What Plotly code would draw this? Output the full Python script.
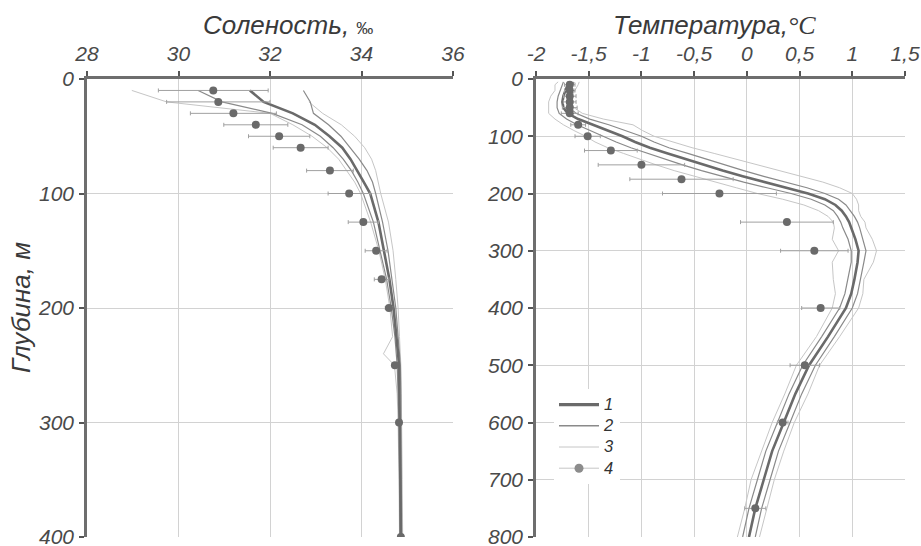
import plotly.graph_objects as go

# ---------------- Salinity panel data ----------------
s_depth = [10, 20, 30, 40, 50, 60, 70, 80, 90, 100, 125, 150, 175, 200, 225, 240, 250, 275, 300, 350, 400]
s_mean = [31.56, 31.86, 32.50, 32.98, 33.30, 33.58, 33.76, 33.91, 34.05, 34.19, 34.37, 34.49, 34.61, 34.70, 34.77,
          34.80, 34.82, 34.83, 34.84, 34.85, 34.86]
s_lo2 = [30.43, 30.95, 32.05, 32.70, 33.10, 33.38, 33.60, 33.78, 33.92, 34.04, 34.26, 34.40, 34.55, 34.65, 34.73,
         34.76, 34.78, 34.80, 34.82, 34.83, 34.84]
s_hi2 = [32.73, 32.88, 32.95, 33.28, 33.55, 33.76, 33.95, 34.12, 34.24, 34.31, 34.46, 34.58, 34.67, 34.75, 34.80,
         34.83, 34.85, 34.86, 34.86, 34.87, 34.88]
s_lo3 = [28.98, 29.74, 32.00, 32.50, 32.92, 33.25, 33.50, 33.68, 33.85, 33.98, 34.20, 34.38, 34.52, 34.62, 34.68,
         34.48, 34.72, 34.78, 34.80, 34.82, 34.83]
s_hi3 = [None, 32.85, 33.15, 33.56, 33.85, 34.07, 34.22, 34.31, 34.37, 34.42, 34.59, 34.69, 34.75, 34.80, 34.83,
         34.85, 34.86, 34.87, 34.88, 34.89, 34.90]

s_pt_depth = [10, 20, 30, 40, 50, 60, 80, 100, 125, 150, 175, 200, 250, 300, 400]
s_pt = [30.76, 30.87, 31.20, 31.69, 32.20, 32.67, 33.31, 33.73, 34.04, 34.32, 34.44, 34.60, 34.73, 34.82, 34.86]
s_pt_err = [1.20, 1.13, 0.94, 0.70, 0.67, 0.60, 0.51, 0.46, 0.33, 0.24, 0.16, 0.08, 0.05, 0.03, 0.02]

# ---------------- Temperature panel data ----------------
t_depth = [5, 10, 20, 30, 40, 50, 60, 70, 80, 90,
           100, 110, 120, 130, 140, 150, 160, 170, 180, 190,
           200, 210, 220, 230, 240, 250, 260, 280, 300, 320,
           350, 375, 400, 450, 500, 550, 600, 650, 700, 750, 800]
t_mean = [-1.69, -1.70, -1.72, -1.74, -1.75, -1.74, -1.70, -1.60, -1.46, -1.32,
          -1.18, -1.06, -0.92, -0.75, -0.58, -0.41, -0.23, -0.04, 0.17, 0.38,
          0.58, 0.74, 0.84, 0.90, 0.94, 0.97, 0.99, 1.03, 1.06, 1.05,
          1.02, 0.99, 0.94, 0.77, 0.59, 0.46, 0.35, 0.24, 0.16, 0.08, 0.02]
t_sd2 = [0.05, 0.05, 0.05, 0.05, 0.05, 0.06, 0.08, 0.11, 0.15, 0.17,
         0.18, 0.18, 0.18, 0.19, 0.19, 0.20, 0.20, 0.20, 0.20, 0.19,
         0.16, 0.13, 0.10, 0.08, 0.08, 0.08, 0.08, 0.07, 0.07, 0.06,
         0.06, 0.06, 0.06, 0.06, 0.06, 0.06, 0.06, 0.06, 0.06, 0.06, 0.06]
t_hi3 = [0.10, 0.10, 0.09, 0.08, 0.08, 0.10, 0.14, 0.24, 0.38, 0.33,
         0.30, 0.36, 0.40, 0.44, 0.48, 0.52, 0.55, 0.56, 0.55, 0.50,
         0.42, 0.30, 0.22, 0.16, 0.14, 0.15, 0.14, 0.16, 0.17, 0.15,
         0.09, 0.11, 0.12, 0.11, 0.10, 0.12, 0.10, 0.11, 0.10, 0.11, 0.10]
t_lo3 = [0.10, 0.12, 0.10, 0.12, 0.13, 0.14, 0.18, 0.22, 0.28, 0.32,
         0.35, 0.38, 0.40, 0.42, 0.44, 0.45, 0.46, 0.46, 0.47, 0.48,
         0.48, 0.40, 0.30, 0.22, 0.17, 0.15, 0.16, 0.22, 0.19, 0.24,
         0.20, 0.15, 0.13, 0.11, 0.12, 0.10, 0.11, 0.10, 0.12, 0.10, 0.11]

t_pt_depth = [10, 20, 30, 40, 50, 60, 80, 100, 125, 150, 175, 200, 250, 300, 400, 500, 600, 750]
t_pt = [-1.68, -1.68, -1.68, -1.68, -1.68, -1.68, -1.60, -1.51, -1.29, -1.00, -0.62, -0.26,
        0.38, 0.64, 0.70, 0.55, 0.34, 0.08]
t_pt_err = [0.05, 0.05, 0.06, 0.06, 0.07, 0.08, 0.07, 0.12, 0.25, 0.41, 0.49, 0.54,
            0.44, 0.32, 0.18, 0.14, 0.05, 0.10]

# ticks
s_ticks = [28, 30, 32, 34, 36]
s_ticktext = ["28", "30", "32", "34", "36"]
t_ticks = [-2, -1.5, -1, -0.5, 0, 0.5, 1, 1.5]
t_ticktext = ["-2", "-1,5", "-1", "-0,5", "0", "0,5", "1", "1,5"]
s_yticks = [0, 100, 200, 300, 400]
t_yticks = [0, 100, 200, 300, 400, 500, 600, 700, 800]

legend_labels = ["1", "2", "3", "4"]

# ---------------- styles ----------------
C1, W1 = "#6a6a6a", 2.6
C2, W2 = "#8a8a8a", 1.2
C3, W3 = "#c6c6c6", 1.0
CP = "#6a6a6a"
CE = "#a0a0a0"

t_hi2 = [m + d for m, d in zip(t_mean, t_sd2)]
t_lo2 = [m - d for m, d in zip(t_mean, t_sd2)]
t_hi3v = [m + d for m, d in zip(t_mean, t_hi3)]
t_lo3v = [m - d for m, d in zip(t_mean, t_lo3)]

fig = go.Figure()

def line(x, y, color, width, xa, ya):
    fig.add_trace(go.Scatter(x=x, y=y, mode="lines", line=dict(color=color, width=width),
                             xaxis=xa, yaxis=ya, showlegend=False, hoverinfo="skip",
                             connectgaps=False))

# salinity
for arr in (s_lo3, s_hi3):
    line(arr, s_depth, C3, W3, "x", "y")
for arr in (s_lo2, s_hi2):
    line(arr, s_depth, C2, W2, "x", "y")
line(s_mean, s_depth, C1, W1, "x", "y")
fig.add_trace(go.Scatter(x=s_pt, y=s_pt_depth, mode="markers", xaxis="x", yaxis="y",
                         marker=dict(color=CP, size=8),
                         error_x=dict(type="data", array=s_pt_err, color=CE, thickness=1, width=2),
                         showlegend=False))

# temperature
for arr in (t_lo3v, t_hi3v):
    line(arr, t_depth, C3, W3, "x2", "y2")
for arr in (t_lo2, t_hi2):
    line(arr, t_depth, C2, W2, "x2", "y2")
line(t_mean, t_depth, C1, W1, "x2", "y2")
fig.add_trace(go.Scatter(x=t_pt, y=t_pt_depth, mode="markers", xaxis="x2", yaxis="y2",
                         marker=dict(color=CP, size=8),
                         error_x=dict(type="data", array=t_pt_err, color=CE, thickness=1, width=2),
                         showlegend=False))

# legend entries
leg_styles = [dict(mode="lines", line=dict(color=C1, width=W1 + 0.8)),
              dict(mode="lines", line=dict(color=C2, width=W2 + 0.3)),
              dict(mode="lines", line=dict(color=C3, width=W3)),
              dict(mode="lines+markers", line=dict(color=C3, width=W3),
                   marker=dict(color="#8c8c8c", size=9))]
for lab, st in zip(legend_labels, leg_styles):
    fig.add_trace(go.Scatter(x=[None], y=[None],
                             name='<span style="font-size:16.5px">' + lab + '</span>',
                             xaxis="x2", yaxis="y2", showlegend=True, **st))

FONT = "Liberation Sans, Arial, sans-serif"
tickfont = dict(family=FONT, size=21, color="#4a4a4a", style="italic")
axcommon = dict(showline=True, linecolor="#6e6e6e", linewidth=2.5, ticks="outside",
                ticklen=5, tickwidth=1.5, tickcolor="#555555", showgrid=True,
                gridcolor="#d2d2d2", gridwidth=1, zeroline=False, tickfont=tickfont,
                mirror=False, ticklabeloverflow="allow", automargin=False)

y0 = 1 - 537 / 546
y1 = 1 - 79 / 546
fig.update_layout(
    width=921, height=546,
    margin=dict(l=0, r=0, t=0, b=0, pad=0, autoexpand=False),
    paper_bgcolor="white", plot_bgcolor="white",
    font=dict(family=FONT, color="#444444"),
    xaxis=dict(domain=[87 / 921, 453 / 921], range=[28, 36], side="top", anchor="y",
               tickvals=s_ticks, ticktext=s_ticktext, ticklabelstandoff=2, **axcommon),
    yaxis=dict(domain=[y0, y1], range=[400, 0], anchor="x",
               tickvals=s_yticks, ticklabelstandoff=1, **axcommon),
    xaxis2=dict(domain=[536 / 921, 905 / 921], range=[-2, 1.5], side="top", anchor="y2",
                tickvals=t_ticks, ticktext=t_ticktext, ticklabelstandoff=2, **axcommon),
    yaxis2=dict(domain=[y0, y1], range=[800, 0], anchor="x2",
                tickvals=t_yticks, ticklabelstandoff=1, **axcommon),
    legend=dict(x=554 / 921, y=1 - 389 / 546, xanchor="left", yanchor="top",
                bgcolor="white", borderwidth=0,
                font=dict(family=FONT, size=14, color="#333333", style="italic"),
                tracegroupgap=0, itemwidth=40),
    showlegend=True,
    annotations=[
        dict(text='Соленость, <span style="font-size:17px;font-style:normal">‰</span>',
             x=288 / 921, y=1 - 25 / 546, xref="paper", yref="paper",
             showarrow=False, xanchor="center", yanchor="middle",
             font=dict(family=FONT, size=26, color="#3a3a3a", style="italic")),
        dict(text="Температура,<span style=\"font-family:'Liberation Serif'\">°C</span>",
             x=714 / 921, y=1 - 25 / 546, xref="paper", yref="paper",
             showarrow=False, xanchor="center", yanchor="middle",
             font=dict(family=FONT, size=26, color="#3a3a3a", style="italic")),
        dict(text="Глубина, м", x=21 / 921, y=1 - 308 / 546, xref="paper", yref="paper",
             showarrow=False, textangle=-90, xanchor="center", yanchor="middle",
             font=dict(family=FONT, size=26, color="#3a3a3a", style="italic")),
    ],
)

fig.write_html("out.html")
